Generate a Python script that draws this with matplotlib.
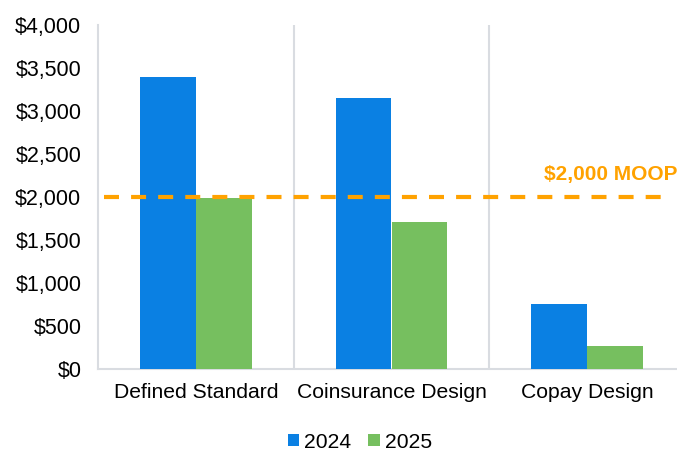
import numpy as np
import matplotlib
matplotlib.use("Agg")
from matplotlib import pyplot as plt
import matplotlib.ticker as ticker

plt.rcParams['font.family'] = ['Liberation Sans', 'DejaVu Sans']

categories = ['Defined Standard', 'Coinsurance Design', 'Copay Design']
cost_2024 = [3390, 3150, 760]
cost_2025 = [1990, 1710, 270]
series_names = ['2024', '2025']
moop = 2000
moop_label = '$2,000 MOOP'

blue = '#0A80E3'
green = '#76BF5F'
orange = '#FFA200'
grid_gray = '#D9DCE1'

fig = plt.figure(figsize=(6.77, 4.51), dpi=100)
ax = fig.add_axes([98/677, 82/451, 587/677, 344/451])

x = np.arange(len(categories))
w = 0.286
ax.bar(x - w/2, cost_2024, w, color=blue, label=series_names[0], zorder=3)
ax.bar(x + w/2, cost_2025, w, color=green, label=series_names[1], zorder=3)

ax.axhline(moop, xmin=0.01, xmax=0.968, color=orange, lw=3, dashes=(3.6, 2.9), zorder=4)
ax.text(0.987, moop + 260, moop_label, transform=ax.get_yaxis_transform(),
        ha='right', va='center', color=orange, fontsize=15, fontweight='bold')

ax.set_xlim(-0.5, 2.5)
ax.set_ylim(0, 4000)
ax.set_xticks(x)
ax.set_xticklabels(categories)
ax.xaxis.set_minor_locator(ticker.FixedLocator([0.5, 1.5]))
ax.xaxis.grid(True, which='minor', color=grid_gray, lw=1.5)
ax.xaxis.grid(False, which='major')
ax.yaxis.set_major_locator(ticker.MultipleLocator(500))
ax.yaxis.set_major_formatter(ticker.FuncFormatter(lambda v, p: '${:,.0f}'.format(v)))
ax.tick_params(axis='both', which='both', length=0)
ax.tick_params(axis='y', pad=12, labelsize=15.5)
ax.tick_params(axis='x', pad=10, labelsize=15.2)

for s in ['top', 'right']:
    ax.spines[s].set_visible(False)
ax.spines['left'].set_color(grid_gray)
ax.spines['left'].set_linewidth(1.5)
ax.spines['bottom'].set_color(grid_gray)
ax.spines['bottom'].set_linewidth(1.5)

fig.legend(loc='center', bbox_to_anchor=(360/677, 1 - 442/451), ncol=2, frameon=False,
           fontsize=15.2, handlelength=0.53, handleheight=0.53, handletextpad=0.25,
           columnspacing=0.8)

plt.savefig("out.png", dpi=100)
